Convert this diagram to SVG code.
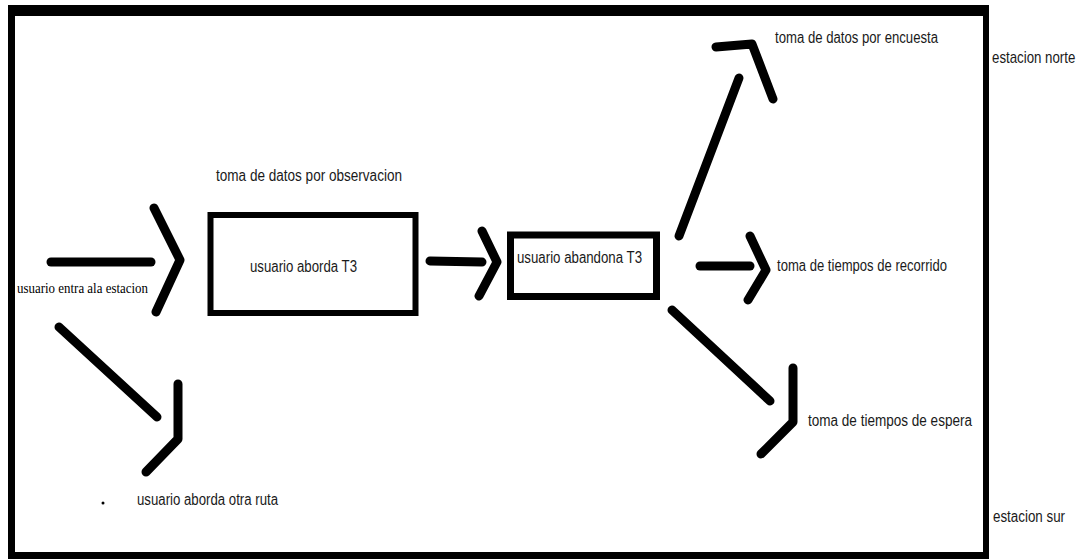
<svg xmlns="http://www.w3.org/2000/svg" width="1087" height="559" viewBox="0 0 1087 559">
<style>
.bg{fill:#fff}
.frame{fill:#000}
.box{fill:#fff;stroke:#000}
.conn{fill:none;stroke:#000;stroke-width:9;stroke-linecap:round;stroke-linejoin:round}
.t{font-family:"Liberation Sans",Arial,sans-serif;font-size:16px;fill:#1a1a1a}
.s{font-family:"Liberation Serif","Times New Roman",serif;font-size:15px;fill:#000}
</style>
<rect class="bg" x="0" y="0" width="1087" height="559"/>
<g id="frame">
<rect class="frame" x="8" y="5" width="981" height="11"/>
<rect class="frame" x="8" y="5" width="7" height="554"/>
<rect class="frame" x="983" y="5" width="6" height="554"/>
<rect class="frame" x="8" y="552" width="981" height="7"/>
</g>
<g id="connectors">
<path class="conn" d="M51,262 L151,262"/>
<path class="conn" d="M154,208 L180,260 L156,312"/>
<path class="conn" d="M59,327 L157,417"/>
<path class="conn" d="M178,384 L178,439 L146,472"/>
<path class="conn" d="M430,261 L482,262"/>
<path class="conn" d="M482,231 L497,262 L479,296"/>
<path class="conn" d="M679,236 L739,78"/>
<path class="conn" d="M716,47 L752,44 L773,99"/>
<path class="conn" d="M700,266 L750,266"/>
<path class="conn" d="M750,236 L766,270 L748,300"/>
<path class="conn" d="M672,310 L770,401"/>
<path class="conn" d="M793,368 L793,422 L761,454"/>
<circle cx="103" cy="503" r="1.5" fill="#000"/>
</g>
<g id="node-entra">
<text class="s" x="17" y="293" textLength="131" lengthAdjust="spacingAndGlyphs">usuario entra ala estacion</text>
</g>
<g id="node-observacion">
<text class="t" x="216" y="181" textLength="186" lengthAdjust="spacingAndGlyphs">toma de datos por observacion</text>
</g>
<g id="node-aborda">
<rect class="box" x="210.5" y="215" width="205" height="98" stroke-width="6"/>
<text class="t" x="250" y="272" textLength="107" lengthAdjust="spacingAndGlyphs">usuario aborda T3</text>
</g>
<g id="node-otra-ruta">
<text class="t" x="137" y="505" textLength="141" lengthAdjust="spacingAndGlyphs">usuario aborda otra ruta</text>
</g>
<g id="node-abandona">
<rect class="box" x="510.5" y="235" width="146" height="61.5" stroke-width="7"/>
<text class="t" x="517" y="263" textLength="125" lengthAdjust="spacingAndGlyphs">usuario abandona T3</text>
</g>
<g id="node-encuesta">
<text class="t" x="775" y="43" textLength="163" lengthAdjust="spacingAndGlyphs">toma de datos por encuesta</text>
</g>
<g id="node-recorrido">
<text class="t" x="777" y="271" textLength="170" lengthAdjust="spacingAndGlyphs">toma de tiempos de recorrido</text>
</g>
<g id="node-espera">
<text class="t" x="808" y="426" textLength="164" lengthAdjust="spacingAndGlyphs">toma de tiempos de espera</text>
</g>
<g id="node-norte">
<text class="t" transform="translate(992,63) scale(0.83,1)" x="0" y="0">estacion norte</text>
</g>
<g id="node-sur">
<text class="t" x="993" y="522" textLength="72" lengthAdjust="spacingAndGlyphs">estacion sur</text>
</g>
</svg>
